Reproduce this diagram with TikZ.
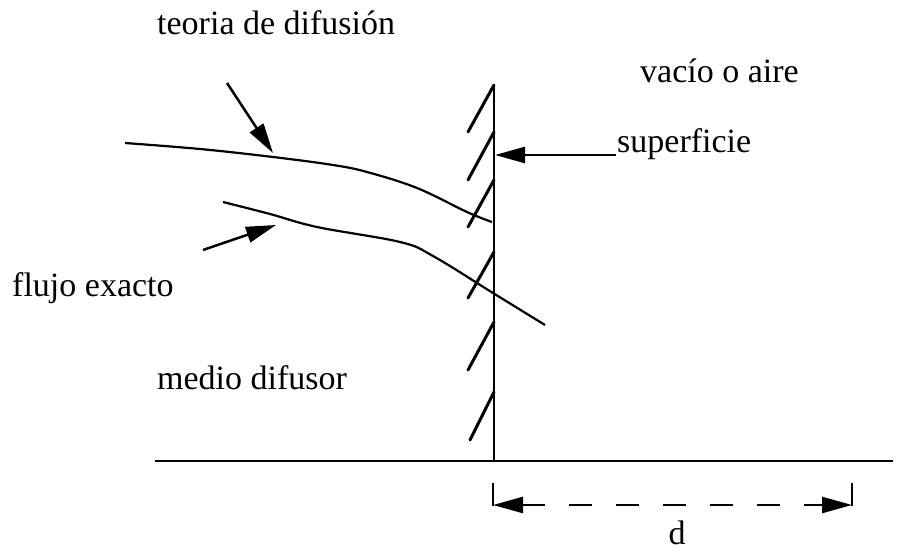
\documentclass[tikz,border=0pt]{standalone}
\usepackage{fontspec}
\setmainfont{Liberation Serif}
\usetikzlibrary{arrows.meta}
\tikzset{
  lbl/.style={anchor=base west, inner sep=0pt, font=\fontsize{34}{40}\selectfont},
  curve/.style={line width=2.2pt},
  wallline/.style={line width=2.5pt},
  hatch/.style={line width=3pt, line cap=round},
  pointer/.style={line width=2.5pt, -{Triangle[length=30pt,width=16pt]}},
  dimarrow/.style={line width=2.5pt, dash pattern=on 23pt off 24pt, {Triangle[length=30pt,width=16pt]}-{Triangle[length=30pt,width=16pt]}},
}
\begin{document}
\begin{tikzpicture}[x=1pt,y=-1pt]
\clip (0,0) rectangle (916,553);
\fill[white] (0,0) rectangle (916,553);

% labels
\node[lbl] (teoria) at (157,35) {teoria de difusión};
\node[lbl] (vacio) at (640,83) {vacío o aire};
\node[lbl] (sup) at (617,153) {superficie};
\node[lbl] (flujo) at (12,297) {flujo exacto};
\node[lbl] (medio) at (157,389) {medio difusor};
\node[inner sep=0pt, anchor=base, font=\fontsize{34}{40}\selectfont] (d) at (677,544) {d};

% wall and base
\coordinate (wtop) at (494,85);
\coordinate (wbot) at (494,461);
\coordinate (bl) at (155,461);
\coordinate (br) at (893,461);
\draw[wallline] (bl) -- (br);
\draw[wallline] (wtop) -- (wbot);

% hatches
\foreach \ya/\yb/\xb in {85/132/468, 132/180/468, 180/227/468, 252/298/468, 322/370/468, 392/440/470}
  \draw[hatch] (494,\ya) -- (\xb,\yb);

% curves
\draw[curve] plot[smooth, tension=0.6] coordinates {(125,143) (200,149) (273,157) (333,165) (367,172) (417,188) (467,212) (492,222)};
\draw[curve] plot[smooth, tension=0.6] coordinates {(223,202) (270,214) (317,227) (400,242) (433,256) (493,293) (545,325)};

% pointers
\coordinate (ta) at (227,83);
\coordinate (tb) at (273,153);
\draw[pointer] (ta) -- (tb);
\coordinate (fa) at (203,250);
\coordinate (fb) at (276,225);
\draw[pointer] (fa) -- (fb);
\coordinate (sa) at (616,155);
\coordinate (sb) at (495,155);
\draw[pointer] (sa) -- (sb);

% dimension
\coordinate (dl) at (493,505);
\coordinate (dr) at (852,505);
\draw[line width=2.5pt] (493,483) -- (493,506);
\draw[line width=2.5pt] (852,483) -- (852,506);
\draw[dimarrow] (dl) -- (dr);
\end{tikzpicture}
\end{document}
